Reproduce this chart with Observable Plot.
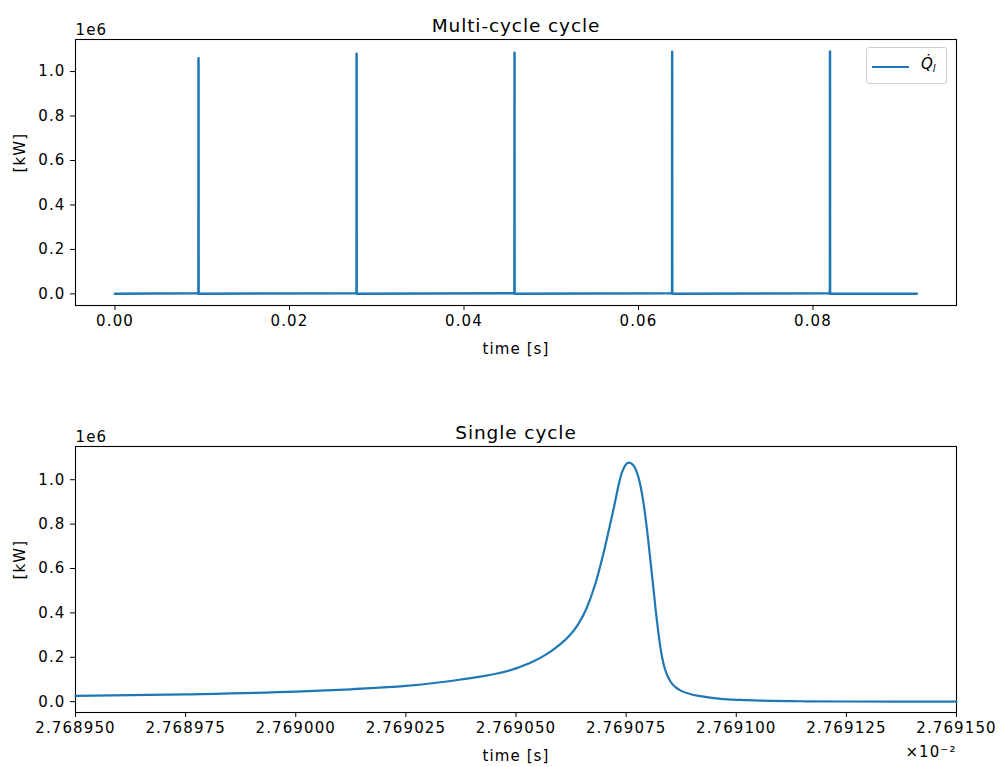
<!DOCTYPE html>
<html><head><meta charset="utf-8">
<script src="https://cdn.jsdelivr.net/npm/d3@7"></script>
<script src="https://cdn.jsdelivr.net/npm/@observablehq/plot@0.6"></script>
<style>
body{margin:0;background:#fff;}
#wrap{position:relative;width:1000px;height:767px;font-family:"DejaVu Sans",sans-serif;background:#fff;}
#wrap svg{position:absolute;left:0;}
.legend{position:absolute;left:866px;top:47px;width:81px;height:37px;border:1px solid #d0d0d0;border-radius:3px;background:#fff;box-sizing:border-box;}
.legend .ls{position:absolute;left:5px;top:18px;width:37px;height:2px;background:#1f77b4;}
.legend .lt{position:absolute;left:54px;top:6px;font-size:15px;line-height:20px;font-style:italic;color:#000;}
.legend sub{font-size:10px;vertical-align:-3px;}
</style></head>
<body><div id="wrap"></div>
<script>
// ---------- data ----------
const multiTime  = [0.0, 0.0094, 0.00956, 0.00957, 0.00958, 0.0275, 0.02768, 0.02769, 0.02770, 0.0456, 0.04578, 0.04579, 0.04580, 0.0637, 0.06385, 0.06386, 0.06387, 0.0818, 0.08194, 0.08195, 0.08196, 0.0919];
const multiValue = [0, 3000, 5000, 1060000, 500, 3000, 5000, 1080000, 500, 3000, 5000, 1085000, 500, 3000, 5000, 1089000, 500, 3000, 5000, 1090000, 500, 500];

// single cycle, time in units of 1e-2 s
const singleTime  = [2.768950, 2.768975, 2.769000, 2.7690125, 2.769025, 2.7690375, 2.769050, 2.769052, 2.769054, 2.769056, 2.769058, 2.769060, 2.769062, 2.769064, 2.769066, 2.769068, 2.769070, 2.769072, 2.769074, 2.7690748, 2.7690756, 2.7690766, 2.7690774, 2.7690780, 2.7690787, 2.7690794, 2.7690800, 2.7690806, 2.7690812, 2.7690817, 2.7690823, 2.7690829, 2.7690835, 2.7690842, 2.7690851, 2.7690862, 2.7690874, 2.7690895, 2.7690919, 2.7690965, 2.7691010, 2.7691056, 2.769115, 2.769125, 2.769150];
const singleValue = [26000, 33000, 45000, 56000, 71000, 100000, 150000, 165000, 182000, 203000, 228000, 258000, 295000, 345000, 420000, 530000, 680000, 855000, 1030000, 1065000, 1077000, 1066000, 1035000, 995000, 925000, 830000, 730000, 620000, 510000, 415000, 315000, 230000, 170000, 125000, 90000, 66000, 50000, 35000, 25000, 13000, 8000, 5000, 2000, 1000, 500];

const multiXTicks  = [0.00, 0.02, 0.04, 0.06, 0.08];
const singleXTicks = [2.768950, 2.768975, 2.769000, 2.769025, 2.769050, 2.769075, 2.769100, 2.769125, 2.769150];
const yTicks = [0, 200000, 400000, 600000, 800000, 1000000];

const titles = ["Multi-cycle cycle", "Single cycle"];
const xLabel = "time [s]";
const yLabel = "[kW]";
const offsetY = "1e6";
const offsetX = "×10⁻²";
const lineColor = "#1f77b4";

const multiData = multiTime.map((t, i) => ({t, q: multiValue[i]}));
const singleData = singleTime.map((t, i) => ({t, q: singleValue[i]}));

const common = {
  width: 1000,
  marginLeft: 75,
  marginRight: 44,
  style: {fontFamily: '"DejaVu Sans", sans-serif', fontSize: "15px", letterSpacing: "1.1px", color: "black", background: "white", overflow: "visible"}
};

function annotations(title, extra) {
  return [
    Plot.text([title], {text: d => d, frameAnchor: "top", lineAnchor: "bottom", dy: -8, fontSize: 18.5}),
    Plot.text([offsetY], {text: d => d, frameAnchor: "top-left", textAnchor: "start", lineAnchor: "bottom", dy: -5}),
    Plot.text([xLabel], {text: d => d, frameAnchor: "bottom", lineAnchor: "middle", dy: 44}),
    Plot.text([yLabel], {text: d => d, frameAnchor: "left", lineAnchor: "middle", rotate: -90, dx: -55}),
    ...extra
  ];
}

const p1 = Plot.plot({
  ...common,
  height: 400,
  marginTop: 39,
  marginBottom: 95,
  x: {domain: [-0.00453, 0.09645]},
  y: {domain: [-52300, 1144300]},
  marks: [
    Plot.frame({stroke: "black", strokeWidth: 1.1}),
    Plot.axisX({ticks: multiXTicks, tickFormat: d => d.toFixed(2), tickSize: 5, tickPadding: 5, label: null}),
    Plot.axisY({ticks: yTicks, tickFormat: d => (d / 1e6).toFixed(1), tickSize: 5, tickPadding: 5, label: null}),
    Plot.line(multiData, {x: "t", y: "q", stroke: lineColor, strokeWidth: 2.5}),
    ...annotations(titles[0], [])
  ]
});

const p2 = Plot.plot({
  ...common,
  height: 367,
  marginTop: 46,
  marginBottom: 55,
  x: {domain: [2.768950, 2.769150]},
  y: {domain: [-48600, 1149600]},
  marks: [
    Plot.frame({stroke: "black", strokeWidth: 1.1}),
    Plot.axisX({ticks: singleXTicks, tickFormat: d => d.toFixed(6), tickSize: 5, tickPadding: 5, label: null}),
    Plot.axisY({ticks: yTicks, tickFormat: d => (d / 1e6).toFixed(1), tickSize: 5, tickPadding: 5, label: null}),
    Plot.line(singleData, {x: "t", y: "q", stroke: lineColor, strokeWidth: 2.2, curve: "monotone-x"}),
    ...annotations(titles[1], [
      Plot.text([offsetX], {text: d => d, frameAnchor: "bottom-right", textAnchor: "end", lineAnchor: "middle", dy: 40})
    ])
  ]
});

const wrap = document.getElementById("wrap");
p1.style.top = "0px";
p2.style.top = "400px";
wrap.appendChild(p1);
wrap.appendChild(p2);

[p1, p2].forEach(p => {
  d3.select(p).selectAll("text")
    .filter(function() { return titles.includes(this.textContent); })
    .style("letter-spacing", "0.9px");
});

const legend = document.createElement("div");
legend.className = "legend";
legend.innerHTML = '<span class="ls"></span><span class="lt">Q\u0307<sub>l</sub></span>';
wrap.appendChild(legend);
</script>
</body></html>
